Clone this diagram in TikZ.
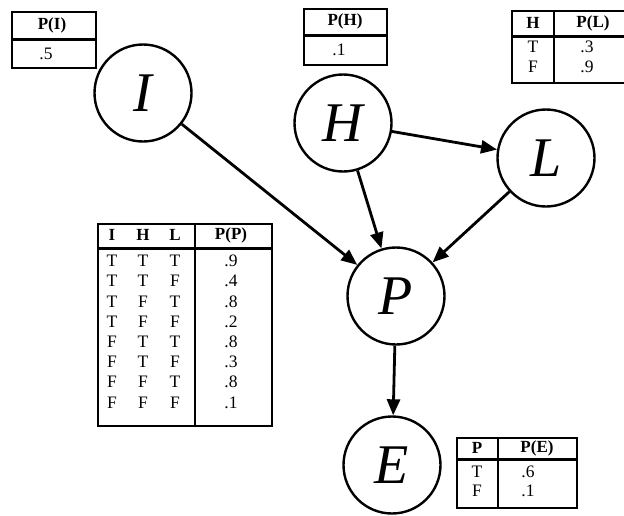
\documentclass[tikz,border=0pt]{standalone}
\usepackage{fontspec}
\setmainfont{Liberation Serif}
\usetikzlibrary{arrows.meta}
\begin{document}
\begin{tikzpicture}[x=1pt,y=-1pt,
  var/.style={circle,draw,line width=2.4pt,minimum size=97pt,inner sep=0pt,font=\fontsize{56}{56}\selectfont\itshape},
  edge/.style={line width=2.8pt,-{Triangle[length=16pt,width=13pt]}},
  tbl/.style={line width=1.6pt},
  sep/.style={line width=3pt},
  hd/.style={inner sep=0pt,font=\fontsize{17}{17}\selectfont\bfseries},
  cell/.style={inner sep=0pt,font=\fontsize{17.5}{17.5}\selectfont}]
\useasboundingbox (0,0) rectangle (624,515);

% nodes
\node[var] (I) at (143,93) {I};
\node[var] (H) at (343,123) {H};
\node[var] (L) at (546,158) {L};
\node[var] (P) at (396,296) {P};
\node[var] (E) at (392,465) {E};

% edges
\draw[edge] (I) -- (P);
\draw[edge] (H) -- (L);
\draw[edge] (H) -- (P);
\draw[edge] (L) -- (P);
\draw[edge] (P) -- (E);

% table P(I)
\draw[tbl] (12,12) rectangle (96,68);
\draw[sep] (12,39) -- (96,39);
\node[hd] (tIh) at (52,25) {P(I)};
\node[cell] (tI1) at (46,54) {.5};

% table P(H)
\draw[tbl] (304,9) rectangle (387,65);
\draw[sep] (304,35) -- (387,35);
\node[hd] (tHh) at (345,21) {P(H)};
\node[cell] (tH1) at (339,50) {.1};

% table P(L)
\draw[tbl] (626,11) -- (512,11) -- (512,83) -- (626,83);
\draw[sep] (512,36) -- (626,36);
\draw[tbl] (554,11) -- (554,83);
\node[hd] (tLh1) at (533,23) {H};
\node[hd] (tLh2) at (593,23) {P(L)};
\node[cell] (tLa1) at (533,47) {T};
\node[cell] (tLb1) at (587,47) {.3};
\node[cell] (tLa2) at (533,67) {F};
\node[cell] (tLb2) at (587,67) {.9};

% table P(P)
\draw[tbl] (98,224) rectangle (272,426);
\draw[sep] (98,248) -- (272,248);
\draw[tbl] (195,224) -- (195,426);
\node[hd] (tPh1) at (112,235) {I};
\node[hd] (tPh2) at (143,235) {H};
\node[hd] (tPh3) at (175,235) {L};
\node[hd] (tPh4) at (231,235) {P(P)};
\foreach \i/\h/\l/\p [count=\k from 0] in {T/T/T/.9,T/T/F/.4,T/F/T/.8,T/F/F/.2,F/T/T/.8,F/T/F/.3,F/F/T/.8,F/F/F/.1}{
  \node[cell] (tPi\k) at (112,261+20.2*\k) {\i};
  \node[cell] (tPj\k) at (143,261+20.2*\k) {\h};
  \node[cell] (tPk\k) at (175,261+20.2*\k) {\l};
  \node[cell] (tPv\k) at (231,261+20.2*\k) {\p};
}

% table P(E)
\draw[tbl] (457,438) rectangle (577,508);
\draw[sep] (457,459) -- (577,459);
\draw[tbl] (498,438) -- (498,508);
\node[hd] (tEh1) at (477,448) {P};
\node[hd] (tEh2) at (537,448) {P(E)};
\node[cell] (tEa1) at (477,472) {T};
\node[cell] (tEb1) at (528,472) {.6};
\node[cell] (tEa2) at (477,491) {F};
\node[cell] (tEb2) at (528,491) {.1};
\end{tikzpicture}
\end{document}
